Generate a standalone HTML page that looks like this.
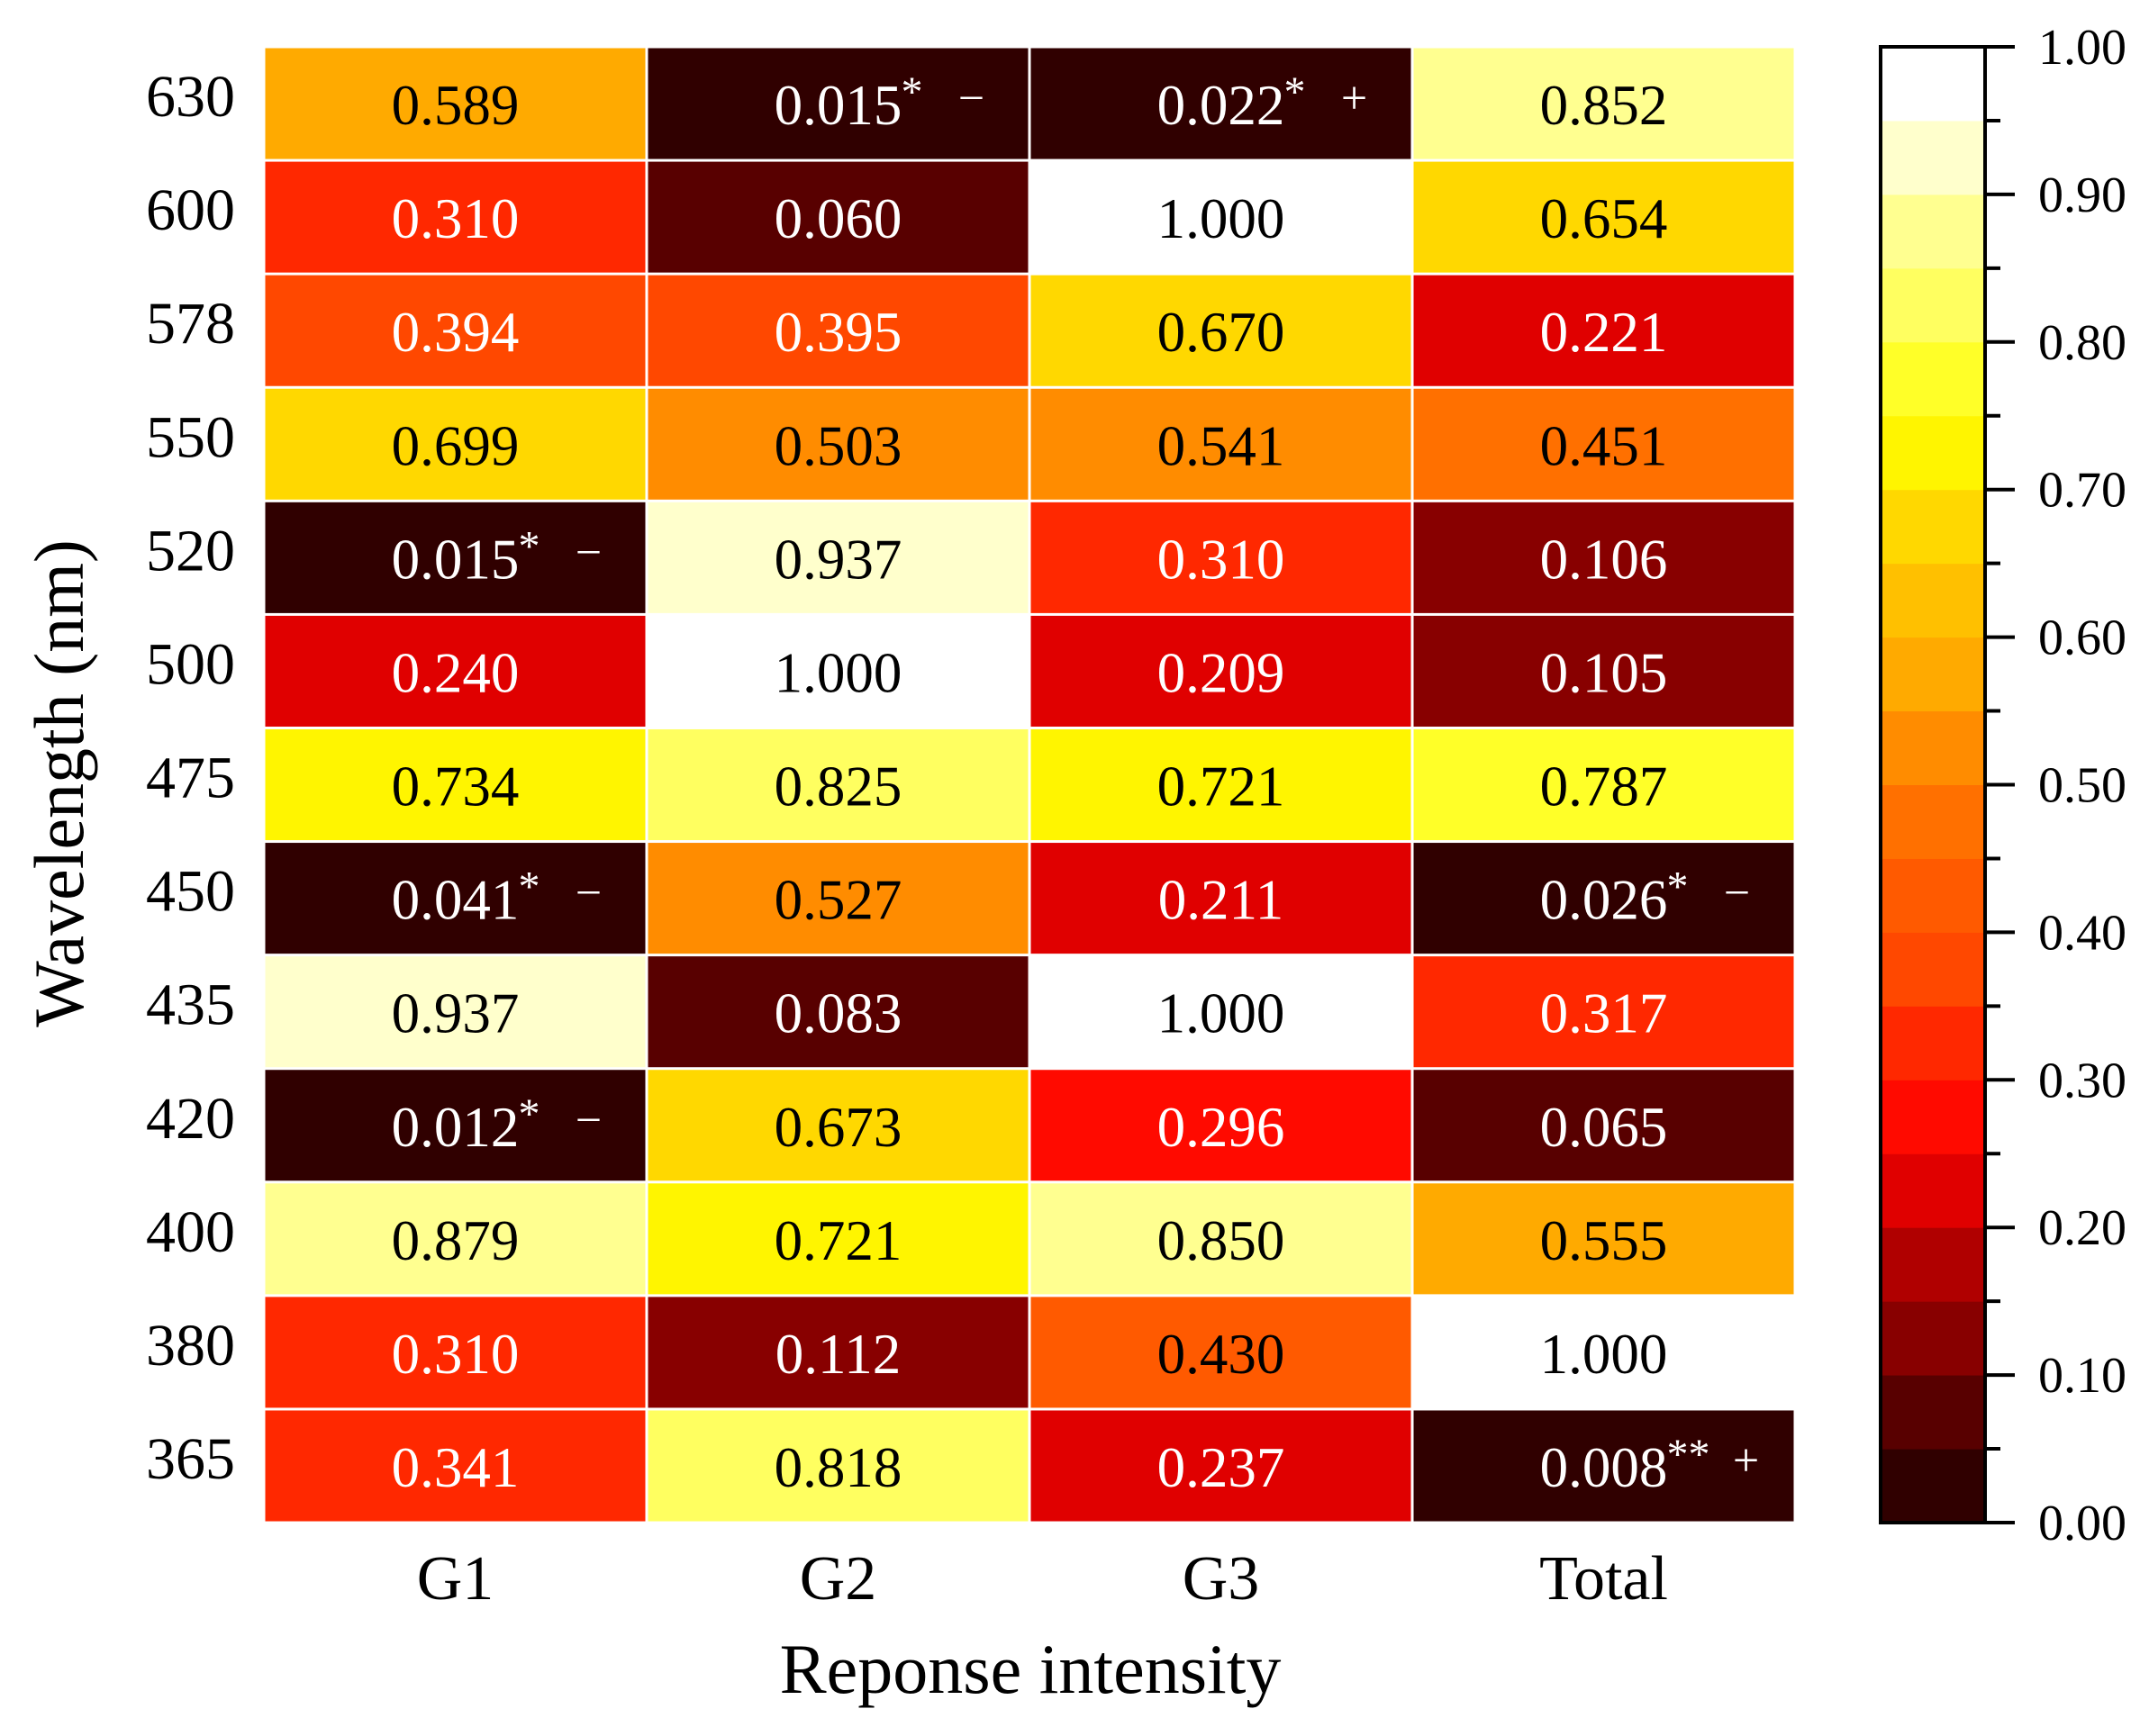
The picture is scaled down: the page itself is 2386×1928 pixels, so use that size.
<!DOCTYPE html>
<html><head><meta charset="utf-8"><style>body{margin:0;background:#fff}svg{display:block}</style></head>
<body>
<svg id="s" width="2386" height="1928" xmlns="http://www.w3.org/2000/svg" font-family="Liberation Serif, serif"></svg>
<script>
const rows=["630","600","578","550","520","500","475","450","435","420","400","380","365"];
const data=[
[[0.589],[0.015,"*","−"],[0.022,"*","+"],[0.852]],
[[0.310],[0.060],[1.000],[0.654]],
[[0.394],[0.395],[0.670],[0.221]],
[[0.699],[0.503],[0.541],[0.451]],
[[0.015,"*","−"],[0.937],[0.310],[0.106]],
[[0.240],[1.000],[0.209],[0.105]],
[[0.734],[0.825],[0.721],[0.787]],
[[0.041,"*","−"],[0.527],[0.211],[0.026,"*","−"]],
[[0.937],[0.083],[1.000],[0.317]],
[[0.012,"*","−"],[0.673],[0.296],[0.065]],
[[0.879],[0.721],[0.850],[0.555]],
[[0.310],[0.112],[0.430],[1.000]],
[[0.341],[0.818],[0.237],[0.008,"**","+"]]];
const cols=["#300000","#580000","#880000","#b00000","#e00000","#ff0a00","#ff2800","#ff4800","#ff5a00","#ff7000","#ff8c00","#ffaa00","#ffc000","#ffd800","#fff500","#ffff28","#ffff60","#ffff90","#ffffcc","#ffffff"];
function col(v){let k=Math.floor(v/0.05+1e-9);if(k>19)k=19;return cols[k];}
let h="";
const L=293,T=52,CW=425,RH=126.08;
for(let i=0;i<13;i++){
 const cy=T+RH*(i+0.5);
 h+=`<text x="261" y="${cy+14}" font-size="66" text-anchor="end">${rows[i]}</text>`;
 for(let j=0;j<4;j++){
  const d=data[i][j],v=d[0],x=L+CW*j,y=T+RH*i;
  h+=`<rect x="${x+1.5}" y="${y+1.5}" width="${CW-3}" height="${RH-3}" fill="${col(v)}"/>`;
  const cx=x+CW/2,fc=v<0.42?"#fff":"#000",by=cy+23;
  h+=`<text x="${cx}" y="${by}" font-size="63" text-anchor="middle" fill="${fc}">${v.toFixed(3)}</text>`;
  if(d[1]){
   h+=`<text x="${cx+70}" y="${by-20}" font-size="48" fill="${fc}">${d[1]}</text>`;
   h+=`<text x="${cx+(d[1]=="**"?158:148)}" y="${by-12}" font-size="52" text-anchor="middle" fill="${fc}">${d[2]}</text>`;
  }
 }
}
["G1","G2","G3","Total"].forEach((t,j)=>{h+=`<text x="${L+CW*(j+0.5)}" y="1776" font-size="70" text-anchor="middle">${t}</text>`;});
h+=`<text x="1144" y="1880" font-size="78" text-anchor="middle">Reponse intensity</text>`;
h+=`<text transform="translate(92,870) rotate(-90)" font-size="78" text-anchor="middle">Wavelength (nm)</text>`;
const X0=2088,X1=2204,Y0=52,Y1=1691,H=Y1-Y0;
for(let k=0;k<20;k++){h+=`<rect x="${X0}" y="${Y1-H*(k+1)/20}" width="${X1-X0}" height="${H/20+0.5}" fill="${cols[k]}"/>`;}
h+=`<rect x="${X0}" y="${Y0}" width="${X1-X0}" height="${H}" fill="none" stroke="#000" stroke-width="4"/>`;
for(let k=0;k<=20;k++){const y=Y1-H*k/20,len=k%2==0?33:17;h+=`<line x1="${X1}" x2="${X1+len}" y1="${y}" y2="${y}" stroke="#000" stroke-width="4"/>`;
 if(k%2==0)h+=`<text x="2263" y="${y+19}" font-size="56">${(k/20).toFixed(2)}</text>`;}
document.getElementById("s").innerHTML=h;
</script>
</body></html>
